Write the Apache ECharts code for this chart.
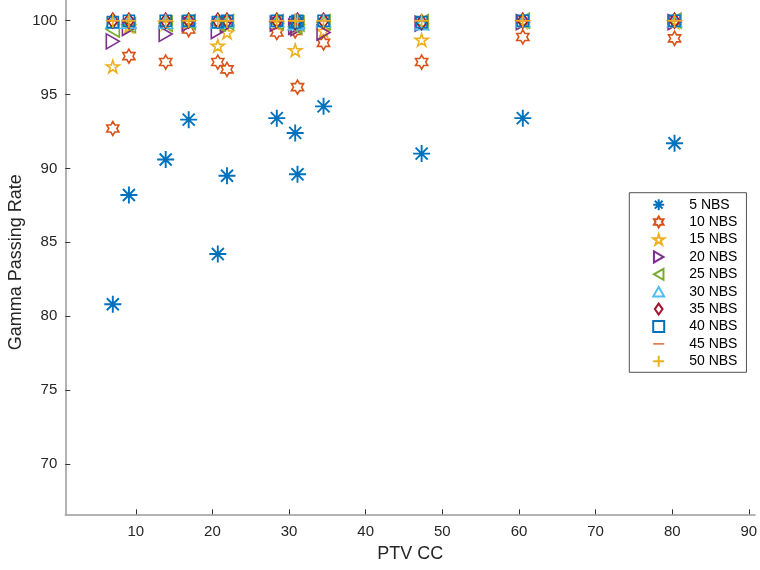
<!DOCTYPE html>
<html>
<head>
<meta charset="utf-8">
<script src="https://cdn.jsdelivr.net/npm/echarts@6/dist/echarts.min.js"></script>
<style>html,body{margin:0;padding:0;background:#fff;}#c{width:760px;height:570px;}</style>
</head>
<body>
<div id="c"></div>
<script>
// ---- data ----
const ptvCC = [7.0, 9.1, 13.9, 16.9, 20.7, 21.9, 28.4, 30.8, 31.1, 34.5, 47.3, 60.5, 80.3];
const nbs5  = [80.8, 88.2, 90.6, 93.3, 84.2, 89.5, 93.4, 92.4, 89.6, 94.2, 91.0, 93.4, 91.7];
const nbs10 = [92.7, 97.6, 97.2, 99.4, 97.2, 96.7, 99.2, 99.3, 95.5, 98.5, 97.2, 98.9, 98.8];
const nbs15 = [96.9, 99.6, 99.8, 99.9, 98.3, 99.2, 99.8, 98.0, 99.6, 99.3, 98.7, 99.9, 99.9];
const nbs20 = [98.6, 99.5, 99.1, 99.8, 99.3, 99.7, 99.8, 99.6, 99.5, 99.2, 99.8, 99.9, 99.9];
const nbs25 = [99.4, 99.7, 99.8, 99.9, 99.8, 99.9, 99.9, 99.6, 99.8, 99.9, 99.9, 100, 100];
const nbs30 = [99.9, 99.9, 99.9, 100, 99.9, 100, 100, 99.8, 99.9, 100, 99.8, 100, 100];
const nbs35 = [100, 100, 100, 100, 100, 100, 100, 99.9, 100, 100, 99.9, 100, 100];
const nbs40 = [99.9, 100, 100, 100, 99.9, 100, 100, 99.9, 100, 100, 99.9, 100, 100];
const nbs45 = [100, 100, 100, 100, 100, 100, 100, 100, 100, 100, 100, 100, 100];
const nbs50 = [100, 100, 100, 100, 100, 100, 100, 100, 100, 100, 100, 100, 100];
const seriesNames = ['5 NBS','10 NBS','15 NBS','20 NBS','25 NBS','30 NBS','35 NBS','40 NBS','45 NBS','50 NBS'];
const xTicks = [10, 20, 30, 40, 50, 60, 70, 80, 90];
const yTicks = [70, 75, 80, 85, 90, 95, 100];
const xTitle = 'PTV CC';
const yTitle = 'Gamma Passing Rate';

// ---- styling ----
const allValues = [nbs5, nbs10, nbs15, nbs20, nbs25, nbs30, nbs35, nbs40, nbs45, nbs50];
const colors = ['#0072BD','#D95319','#EDB120','#7E2F8E','#77AC30','#4DBEEE','#A2142F','#0072BD','#D95319','#EDB120'];
const symbols = [
  'path://M0,-10L0,10M-10,0L10,0M-7.07,-7.07L7.07,7.07M-7.07,7.07L7.07,-7.07',
  'path://M0,-10L2.887,-5L8.66,-5L5.774,0L8.66,5L2.887,5L0,10L-2.887,5L-8.66,5L-5.774,0L-8.66,-5L-2.887,-5Z',
  'path://M0,-10L2.245,-3.09L9.511,-3.09L3.633,1.18L5.878,8.09L0,3.82L-5.878,8.09L-3.633,1.18L-9.511,-3.09L-2.245,-3.09Z',
  'path://M0,0L17.32,10L0,20Z',
  'path://M17.32,0L0,10L17.32,20Z',
  'path://M10,0L20,17.32L0,17.32Z',
  'path://M0,-10L7,0L0,10L-7,0Z',
  'path://M0,0L10,0L10,10L0,10Z',
  'path://M0,0L0,0M0,8.8L20,8.8L20,11.2L0,11.2ZM20,20L20,20',
  'path://M0,-10L0,10M-10,0L10,0'
];
const sizes = [17, 14, 13, 15, 15, 14, 15, 11, 14, 14];
const filled = [false,false,false,false,false,false,false,false,true,false];

const series = seriesNames.map((name, i) => ({
  name: name,
  type: 'scatter',
  symbol: symbols[i],
  symbolSize: sizes[i],
  symbolKeepAspect: true,
  itemStyle: filled[i]
    ? { color: colors[i], borderWidth: 0, opacity: 1 }
    : { color: 'rgba(0,0,0,0)', borderColor: colors[i], borderWidth: i === 0 ? 1.9 : 1.6, opacity: 1 },
  emphasis: { disabled: true },
  data: ptvCC.map((x, k) => [x, allValues[i][k]])
}));

const chart = echarts.init(document.getElementById('c'), null, { renderer: 'canvas' });
chart.setOption({
  animation: false,
  backgroundColor: '#fff',
  textStyle: { fontFamily: 'Liberation Sans, Arial, sans-serif' },
  grid: { left: 65.3, right: 5, top: 0, bottom: 55.7, containLabel: false, outerBoundsMode: 'none' },
  xAxis: {
    type: 'value', min: 0.8, max: 90.8,
    name: xTitle, nameLocation: 'middle', nameGap: 31, nameMoveOverlap: false,
    nameTextStyle: { fontSize: 18, color: '#262626', fontFamily: 'Liberation Sans, Arial, sans-serif' },
    axisLine: { show: true, lineStyle: { color: '#9a9a9a', width: 1.5 } },
    axisTick: { show: true, inside: true, length: 5, customValues: xTicks, lineStyle: { color: '#333', width: 1 } },
    axisLabel: { customValues: xTicks, fontSize: 15, color: '#262626', margin: 10 },
    splitLine: { show: false }
  },
  yAxis: {
    type: 'value', min: 66.58, max: 101.4,
    name: yTitle, nameLocation: 'middle', nameGap: 40, nameRotate: 90, nameMoveOverlap: false,
    nameTextStyle: { fontSize: 18, color: '#262626', padding: [0, 10, 0, 0], fontFamily: 'Liberation Sans, Arial, sans-serif' },
    axisLine: { show: true, lineStyle: { color: '#9a9a9a', width: 1.5 } },
    axisTick: { show: true, inside: true, length: 5, customValues: yTicks, lineStyle: { color: '#333', width: 1 } },
    axisLabel: { customValues: yTicks, fontSize: 15, color: '#262626', margin: 8 },
    splitLine: { show: false }
  },
  legend: {
    orient: 'vertical',
    left: 629.3, top: 192.7,
    padding: [4, 9, 3, 22.9],
    itemWidth: 11, itemHeight: 11, itemGap: 1.4,
    backgroundColor: '#fff',
    borderColor: '#262626', borderWidth: 0.8,
    selectedMode: false,
    data: seriesNames,
    formatter: function (n) { return '{s| }' + n; },
    textStyle: { fontSize: 14, color: '#000', lineHeight: 16, rich: { s: { width: 20, fontSize: 14, lineHeight: 16 } } }
  },
  series: series
});
</script>
</body>
</html>
